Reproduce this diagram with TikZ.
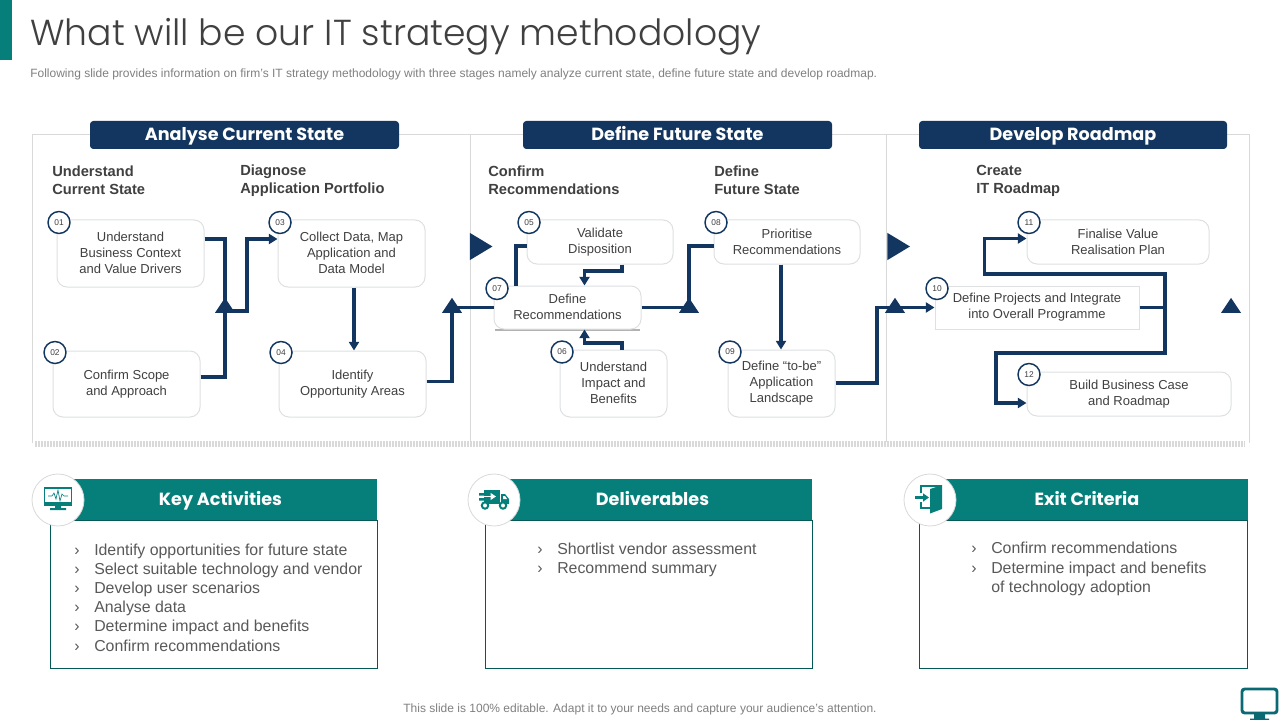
\documentclass[tikz,border=0pt]{standalone}
\usepackage{fontspec}
\setmainfont{Liberation Sans}
\newfontfamily\headfont{Poppins}
\newfontfamily\titlefont{Poppins Light}
\usetikzlibrary{arrows.meta,shapes.geometric}
\definecolor{navy}{HTML}{12365F}
\definecolor{teal1}{HTML}{067F7B}
\definecolor{txt}{HTML}{404040}
\definecolor{bodytxt}{HTML}{595959}
\definecolor{frameln}{HTML}{D9D9D9}
\definecolor{boxln}{HTML}{DEE0E2}
\newcommand{\evenstrut}{\rule[-.07em]{0pt}{.85em}}
\tikzset{
 x=0.75pt,y=-0.75pt,
 struts/.style={execute at begin node=\evenstrut,execute at end node=\evenstrut},
 stepbox/.style={draw=boxln,line width=0.75pt,fill=white,rounded corners=7.5pt,align=center,inner sep=0pt,text=txt,font=\fontsize{9.75pt}{12pt}\selectfont,struts},
 numdot/.style={circle,draw=navy,line width=1.1pt,fill=white,minimum size=16.5pt,inner sep=0pt,text=txt,font=\fontsize{6.3pt}{7pt}\selectfont},
 flow/.style={draw=navy,line width=2.3pt,line join=miter},
 flowtip/.style={flow,-{Triangle[length=6.5pt,width=7.5pt]}},
 stagebar/.style={fill=navy,rounded corners=2.5pt,inner sep=0pt,text=white,text height=11pt,text depth=2.5pt,font=\headfont\fontsize{13.2pt}{16pt}\selectfont\bfseries},
 subhead/.style={anchor=west,align=left,inner sep=0pt,text=txt,font=\fontsize{11pt}{13.5pt}\selectfont\bfseries,struts},
 upmark/.style={isosceles triangle,isosceles triangle stretches,shape border rotate=90,fill=navy,minimum width=15pt,minimum height=11.25pt,inner sep=0pt},
 rightmark/.style={isosceles triangle,isosceles triangle stretches,fill=navy,minimum width=20.5pt,minimum height=17pt,inner sep=0pt},
 tealbar/.style={fill=teal1,inner sep=0pt,text=white,text height=11pt,text depth=2.5pt,font=\headfont\fontsize{13.2pt}{16pt}\selectfont\bfseries},
 panel/.style={draw=teal1!70!black,line width=0.6pt,fill=white,inner sep=0pt},
 panellist/.style={anchor=west,align=left,inner sep=0pt,text=bodytxt,font=\fontsize{11.9pt}{14.4pt}\selectfont,struts},
 iconring/.style={circle,draw=frameln,line width=0.6pt,fill=white,minimum size=39pt,inner sep=0pt},
 icon/.style={draw=teal1,line width=0.9pt},
 iconfill/.style={fill=teal1},
}
% name, x0,y0,x1,y1, text
\newcommand{\placebox}[7][stepbox]{%
 \pgfmathsetmacro\bw{(#5-#3)*0.75}\pgfmathsetmacro\bh{(#6-#4)*0.75}%
 \node[#1,minimum width=\bw pt,minimum height=\bh pt] (#2) at ({(#3+#5)/2},{(#4+#6)/2}) {#7};}
\newcommand{\chev}{\makebox[15pt][l]{›}}
\begin{document}
\begin{tikzpicture}
\useasboundingbox (0,0) rectangle (1280,720);
\fill[white] (0,0) rectangle (1280,720);
% top accent, title
\placebox[fill=teal1,inner sep=0pt]{accent}{0}{0}{12}{60}{}
\node[anchor=base west,inner sep=0pt,text=txt,font=\titlefont\fontsize{27.1pt}{32pt}\selectfont] (title) at (30,46) {What will be our IT strategy methodology};
\node[anchor=base west,inner sep=0pt,text=black!50,font=\fontsize{9pt}{11pt}\selectfont] (subtitle) at (30,77.5) {Following slide provides information on firm’s IT strategy methodology with three stages namely analyze current state, define future state and develop roadmap.};
% frame
\draw[frameln,line width=0.75pt] (32,443) -- (32,135) -- (1249,135) -- (1249,443);
\draw[frameln,line width=0.75pt] (470,135) -- (470,442) (886,135) -- (886,442);
\draw[frameln,line width=4.5pt,dash pattern=on 1.125pt off 1.125pt] (35,444) -- (1245,444);
% stage bars
\placebox[stagebar]{s1}{90}{121}{399}{149}{Analyse Current State}
\placebox[stagebar]{s2}{523}{121}{832}{149}{Define Future State}
\placebox[stagebar]{s3}{919}{121}{1227}{149}{Develop Roadmap}
% sub heads
\node[subhead] (h1) at (52,180.5) {Understand\\Current State};
\node[subhead] (h2) at (240,180.5) {Diagnose\\Application Portfolio};
\node[subhead] (h3) at (488,180.5) {Confirm\\Recommendations};
\node[subhead] (h4) at (714,180.5) {Define\\Future State};
\node[subhead] (h5) at (976,180.5) {Create\\IT Roadmap};
% boxes
\placebox{b01}{57}{220}{204}{287}{Understand\\Business Context\\and Value Drivers}
\placebox{b02}{53}{351}{200}{417}{Confirm Scope\\and Approach}
\placebox{b03}{278}{220}{425}{287}{Collect Data, Map\\Application and\\Data Model}
\placebox{b04}{279}{351}{426}{417}{Identify\\Opportunity Areas}
\placebox{b05}{527}{220}{673}{264}{Validate\\Disposition}
\placebox{b06}{560}{350}{667}{417}{Understand\\Impact and\\Benefits}
\draw[black!30,line width=1.5pt] (495,329.5) -- (640,329.5);
\placebox{b07}{494}{286}{641}{329}{Define\\Recommendations}
\placebox{b08}{714}{220}{860}{264}{Prioritise\\Recommendations}
\placebox{b09}{728}{350}{835}{417}{Define “to-be”\\Application\\Landscape}
\placebox[stepbox,rounded corners=0pt]{b10}{935}{286}{1139}{329}{Define Projects and Integrate\\into Overall Programme}
\placebox{b11}{1027}{220}{1209}{264}{Finalise Value\\Realisation Plan}
\placebox{b12}{1027}{372}{1231}{416}{Build Business Case\\and Roadmap}
% marks
\node[rightmark] (r1) at (477.5,246.5) {};
\node[rightmark] (r2) at (895,246.5) {};
\node[upmark] (u1) at (225,307.5) {};
\node[upmark] (u2) at (452,307.5) {};
\node[upmark] (u3) at (689,307.5) {};
\node[upmark] (u4) at (895,307.5) {};
\node[upmark] (u5) at (1231,307.5) {};
% connectors
\draw[flow] (b01.east |- 0,239) -| (u1.center);
\draw[flow] (b02.east |- 0,377) -| (u1.center);
\draw[flowtip] (u1.center |- 0,311) -- (247,311) |- (b03.west |- 0,239);
\draw[flowtip] (b03.south -| 354,0) -- (b04.north -| 354,0);
\draw[flow] (b04.east |- 0,381.5) -| (u2.center);
\draw[flow] (b07.west) -- (u2.center |- b07.west);
\draw[flow] (b05.west |- 0,246) -| (b07.north -| 516,0);
\draw[flowtip] (b05.south -| 622,0) |- (584.5,271) -- (b07.north -| 584.5,0);
\draw[flowtip] (b06.north -| 622,0) |- (584.5,343) -- (b07.south -| 584.5,0);
\draw[flow] (b07.east) -- (u3.center |- b07.east);
\draw[flow] (b08.west |- 0,246) -| (u3.center);
\draw[flowtip] (b08.south -| 781,0) -- (b09.north -| 781,0);
\draw[flow] (b09.east |- 0,383) -| (877,307.5) -- (u4.center |- 0,307.5);
\draw[flowtip] (u4.center |- 0,307.5) -- (b10.west);
\draw[flow] (b10.east) -- (1165,307.5);
\draw[flowtip] (1165,307.5) |- (984.5,274) |- (b11.west |- 0,238.5);
\draw[flowtip] (1165,307.5) |- (996,353) |- (b12.west |- 0,403);
% numbers
\node[numdot] (n01) at (59,222.5) {01};
\node[numdot] (n02) at (55,352.5) {02};
\node[numdot] (n03) at (280,222.5) {03};
\node[numdot] (n04) at (281,352.5) {04};
\node[numdot] (n05) at (529,222.5) {05};
\node[numdot] (n06) at (562,352) {06};
\node[numdot] (n07) at (497,288.5) {07};
\node[numdot] (n08) at (716,222.5) {08};
\node[numdot] (n09) at (730,352) {09};
\node[numdot] (n10) at (937,288.5) {10};
\node[numdot] (n11) at (1029,222.5) {11};
\node[numdot] (n12) at (1029,374.5) {12};
% lower panels
\placebox[panel]{p1}{50}{520}{377}{668}{}
\placebox[panel]{p2}{485}{520}{812}{668}{}
\placebox[panel]{p3}{919}{520}{1247}{668}{}
\placebox[tealbar]{t1}{64}{479}{377}{520}{Key Activities}
\placebox[tealbar]{t2}{493}{479}{812}{520}{Deliverables}
\placebox[tealbar]{t3}{926}{479}{1248}{520}{Exit Criteria}
\node[iconring] (c1) at (58,500) {};
\node[iconring] (c2) at (494,500) {};
\node[iconring] (c3) at (930,500) {};
\node[panellist] (l1) at (74,598) {\chev Identify opportunities for future state\\\chev Select suitable technology and vendor\\\chev Develop user scenarios\\\chev Analyse data\\\chev Determine impact and benefits\\\chev Confirm recommendations};
\node[panellist] (l2) at (537,559.5) {\chev Shortlist vendor assessment\\\chev Recommend summary};
\node[panellist] (l3) at (971,569) {\chev Confirm recommendations\\\chev Determine impact and benefits\\\hspace*{15pt}of technology adoption};
% icon 1: monitor
\draw[icon] (44.5,488) rectangle (71.5,505);
\fill[teal1] (44,502) rectangle (72,505.5);
\draw[teal1,line width=0.5pt] (48,496) -- (52,496) -- (54,493) -- (56,499) -- (58,490) -- (60,501) -- (62,494) -- (64,496) -- (68,496);
\fill[teal1] (55,505) rectangle (61,508) (50,508) rectangle (66,510);
% icon 2: truck
\fill[teal1] (484,490) rectangle (500,504);
\fill[teal1] (501,494) -- (505,494) -- (509,499) -- (509,504) -- (501,504) -- cycle;
\fill[white] (503,496) -- (505,496) -- (507,499) -- (503,499) -- cycle;
\fill[teal1] (479,493) rectangle (484,495.5) (479,498) rectangle (484,500.5);
\draw[white,line width=1.2pt,-{Triangle[length=4pt,width=5pt]}] (480,496.5) -- (496,496.5);
\filldraw[fill=white,draw=teal1,line width=1.5pt] (485,505.5) circle (3.2);
\filldraw[fill=white,draw=teal1,line width=1.5pt] (503,505.5) circle (3.2);
% icon 3: exit door
\draw[icon,line width=1.1pt] (921,493) -- (921,486) -- (941,486) -- (941,508);
\draw[icon,line width=1.1pt] (921,502) -- (921,508) -- (930,508);
\fill[teal1] (930,489) -- (942,485) -- (942,509) -- (930,513.5) -- cycle;
\draw[teal1,line width=1.7pt,-{Triangle[length=4.5pt,width=6pt]}] (915,497.5) -- (929,497.5);
% corner monitor
\draw[teal1!70!navy,line width=2.2pt,rounded corners=2pt] (1242,689) rectangle (1277,713);
\fill[teal1!70!navy] (1254,714) rectangle (1265,719) (1250,718.5) rectangle (1269,720);
% footer
\node[anchor=base,inner sep=0pt,text=black!50,font=\fontsize{9pt}{11pt}\selectfont] (foot) at (640,712) {This slide is 100\% editable. Adapt it to your needs and capture your audience's attention.};
\end{tikzpicture}
\end{document}
